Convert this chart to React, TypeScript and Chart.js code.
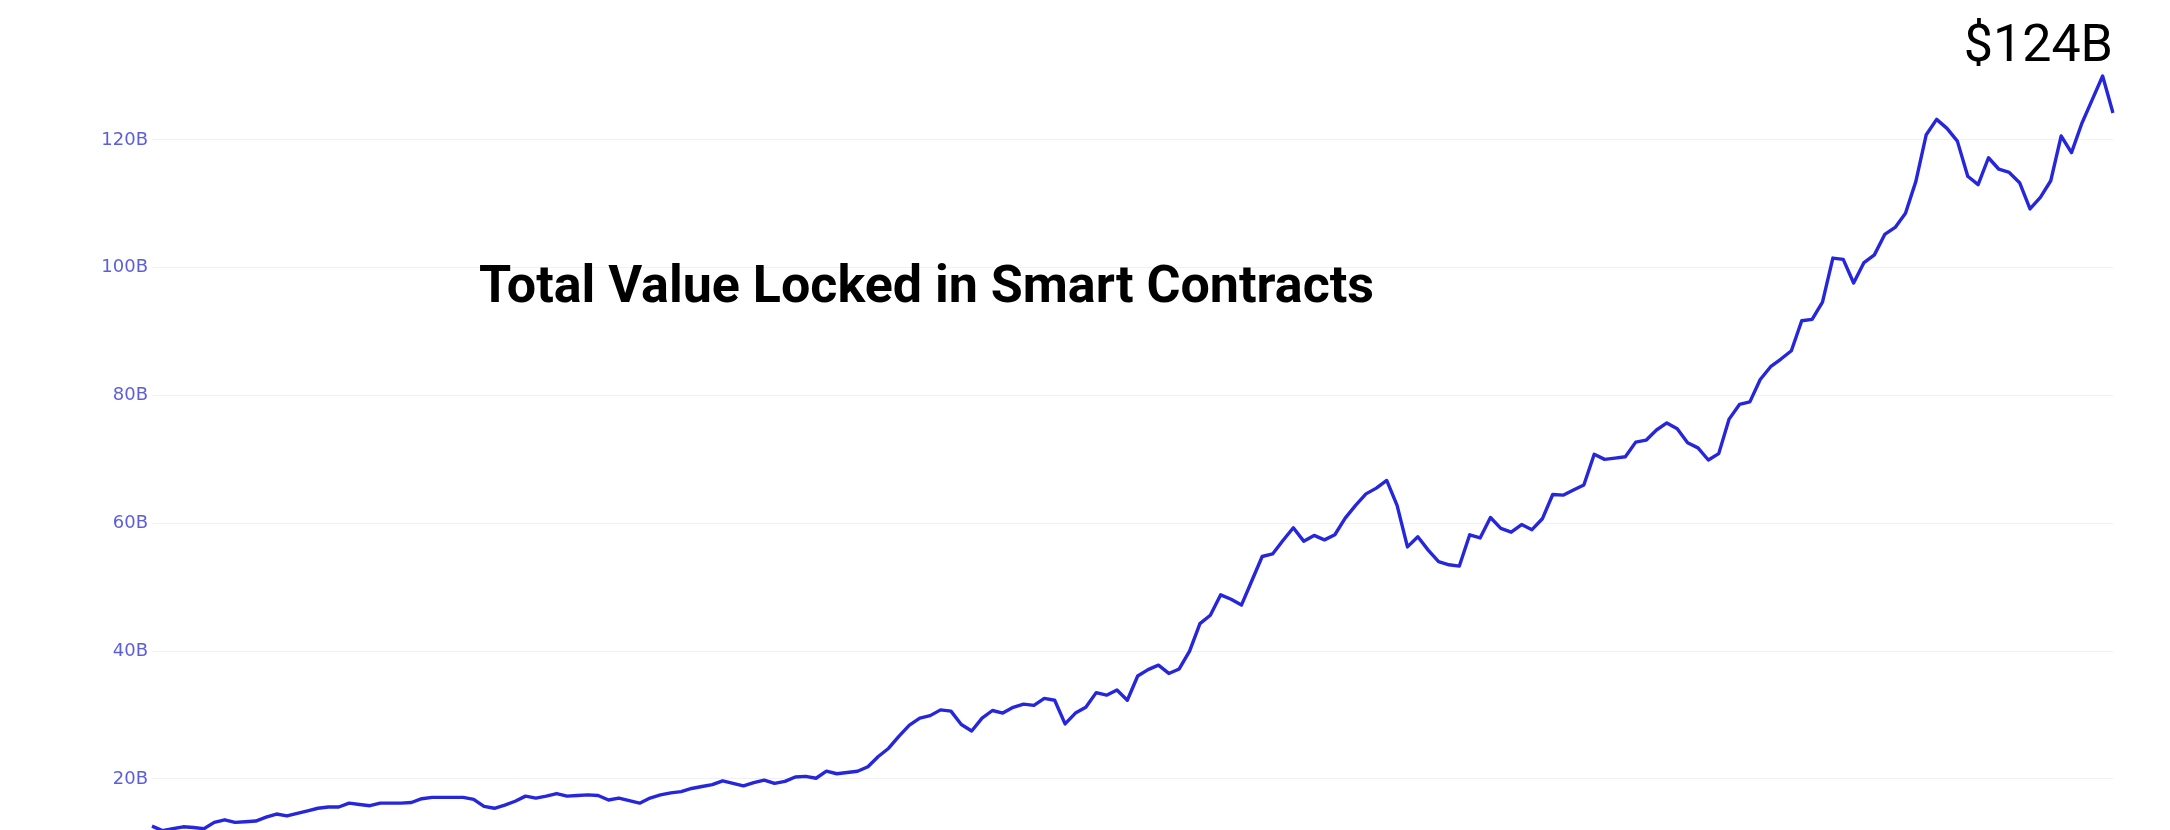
import React, { useEffect, useRef } from "react";
import { Chart, registerables } from "chart.js";

Chart.register(...registerables);

// Total value locked (billions USD), one point per period
const tvlValues: number[] = [
  12.6, 11.9, 12.2, 12.5, 12.4, 12.2, 13.2, 13.6, 13.2, 13.3,
  13.4, 14.0, 14.5, 14.2, 14.6, 15.0, 15.4, 15.6, 15.6, 16.2,
  16.0, 15.8, 16.2, 16.2, 16.2, 16.3, 16.9, 17.1, 17.1, 17.1,
  17.1, 16.8, 15.7, 15.4, 15.9, 16.5, 17.3, 17.0, 17.3, 17.7,
  17.3, 17.4, 17.5, 17.4, 16.7, 17.0, 16.6, 16.2, 17.0, 17.5,
  17.8, 18.0, 18.5, 18.8, 19.1, 19.7, 19.3, 18.9, 19.4, 19.8,
  19.3, 19.6, 20.3, 20.4, 20.1, 21.2, 20.8, 21.0, 21.2, 21.9,
  23.5, 24.8, 26.7, 28.4, 29.5, 29.9, 30.8, 30.6, 28.5, 27.5,
  29.5, 30.7, 30.3, 31.2, 31.7, 31.5, 32.6, 32.3, 28.6, 30.3,
  31.2, 33.5, 33.1, 33.9, 32.3, 36.1, 37.1, 37.8, 36.5, 37.2,
  40.0, 44.3, 45.6, 48.8, 48.1, 47.2, 51.0, 54.8, 55.2, 57.3,
  59.3, 57.2, 58.1, 57.4, 58.2, 60.8, 62.8, 64.6, 65.5, 66.7,
  62.8, 56.3, 57.9, 55.8, 54.0, 53.5, 53.3, 58.2, 57.7, 60.9,
  59.2, 58.6, 59.8, 59.0, 60.7, 64.5, 64.4, 65.2, 66.0, 70.8,
  70.0, 70.2, 70.4, 72.7, 73.0, 74.6, 75.7, 74.8, 72.6, 71.8,
  69.9, 70.9, 76.3, 78.6, 79.0, 82.5, 84.5, 85.7, 87.0, 91.7,
  91.9, 94.6, 101.5, 101.3, 97.6, 100.8, 102.0, 105.2, 106.3, 108.5,
  113.5, 120.8, 123.2, 121.8, 119.8, 114.3, 113.0, 117.2, 115.4, 114.9,
  113.3, 109.2, 111.0, 113.6, 120.6, 118.0, 122.6, 126.3, 130.0, 124.2,
];

const periodLabels: string[] = tvlValues.map((_, i) => `P${i + 1}`);

const yTickValues: number[] = [20, 40, 60, 80, 100, 120];

const chartTitle = "Total Value Locked in Smart Contracts";
const latestLabel = "$124B";

export default function App() {
  const canvasRef = useRef<HTMLCanvasElement | null>(null);

  useEffect(() => {
    if (!canvasRef.current) return;
    const chart = new Chart(canvasRef.current, {
      type: "line",
      data: {
        labels: periodLabels,
        datasets: [
          {
            data: tvlValues,
            borderColor: "#2626dc",
            borderWidth: 3.4,
            pointRadius: 0,
            tension: 0,
            fill: false,
            borderJoinStyle: "round",
          },
        ],
      },
      options: {
        animation: false,
        responsive: false,
        devicePixelRatio: 1,
        layout: { padding: { top: 44, right: 57, bottom: 0, left: 0 } },
        plugins: {
          legend: { display: false },
          tooltip: { enabled: false },
          title: { display: false },
        },
        scales: {
          x: {
            type: "category",
            display: false,
            offset: false,
          },
          y: {
            min: 12,
            max: 135,
            position: "left",
            border: { display: false },
            grid: {
              color: "rgba(0,0,0,0.055)",
              lineWidth: 1,
              drawTicks: false,
            },
            afterBuildTicks: (scale: any) => {
              scale.ticks = yTickValues.map((v) => ({ value: v }));
            },
            afterFit: (scale: any) => {
              scale.width = 152;
              scale.paddingTop = 0;
              scale.paddingBottom = 0;
            },
            ticks: {
              padding: 4,
              color: "#5b5fdf",
              font: { family: "'DejaVu Sans', Verdana, sans-serif", size: 18 },
              callback: (v: any) => `${v}B`,
            },
          },
        },
      },
    });
    return () => chart.destroy();
  }, []);

  return (
    <div
      style={{
        position: "fixed",
        left: 0,
        top: 0,
        width: 2170,
        height: 830,
        background: "#ffffff",
        overflow: "hidden",
      }}
    >
      <canvas ref={canvasRef} width={2170} height={830} style={{ display: "block" }} />
      <div
        style={{
          position: "absolute",
          left: 479,
          top: 259,
          fontFamily: "Roboto, 'Noto Sans', sans-serif",
          fontWeight: 700,
          fontSize: 52,
          lineHeight: "52px",
          color: "#000000",
          whiteSpace: "nowrap",
        }}
      >
        {chartTitle}
      </div>
      <div
        style={{
          position: "absolute",
          right: 2170 - 2113,
          top: 18,
          fontFamily: "Roboto, 'Noto Sans', sans-serif",
          fontWeight: 400,
          fontSize: 52,
          lineHeight: "52px",
          color: "#000000",
          whiteSpace: "nowrap",
        }}
      >
        {latestLabel}
      </div>
    </div>
  );
}
